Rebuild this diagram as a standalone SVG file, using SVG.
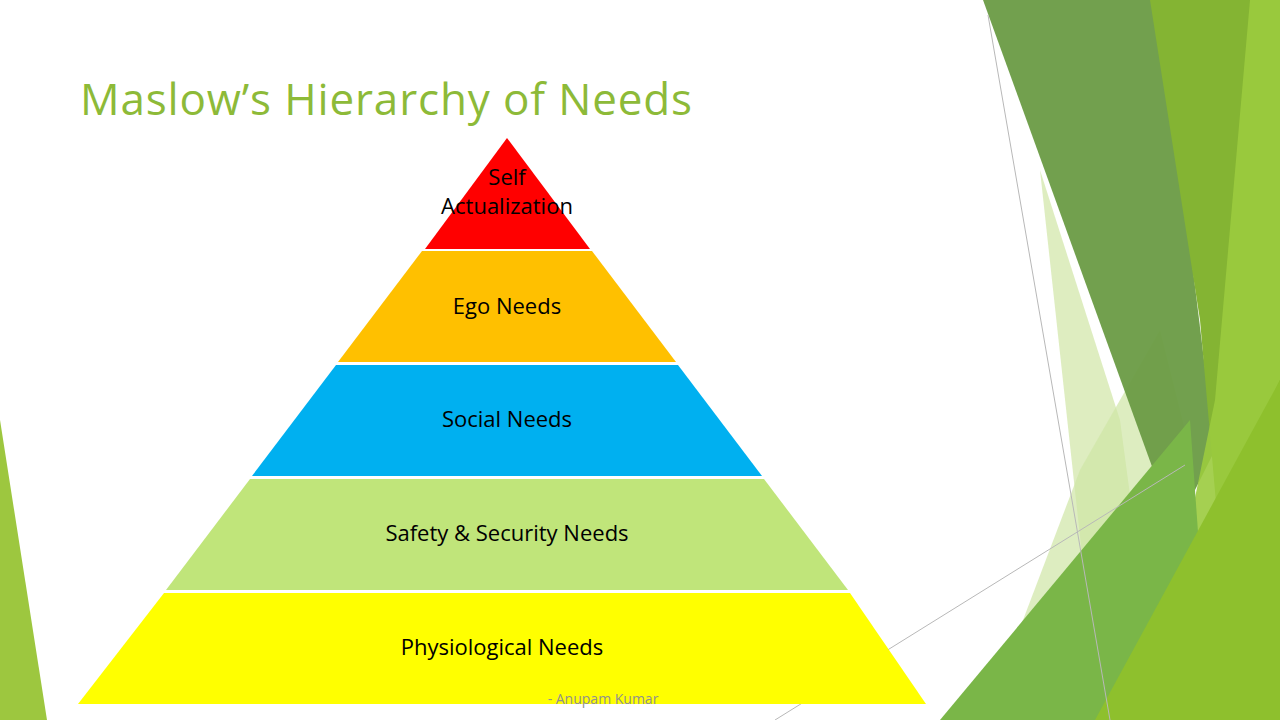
<svg xmlns="http://www.w3.org/2000/svg" width="1280" height="720" viewBox="0 0 1280 720">
<style>
.lbl{font-family:"Open Sans","Liberation Sans",sans-serif;font-size:22px;fill:#000;text-anchor:middle}
.ln{stroke:#b8b8b8;stroke-width:1;fill:none}
</style>
<rect width="1280" height="720" fill="#fff"/>
<g id="decor">
<polygon points="0,420 47,720 0,720" fill="#9DC73F"/>
<polygon points="1040,170 1100,720 1160,720 1120,420" fill="#D6E9B0" opacity="0.8"/>
<polygon points="985,720 1080,470 1160,330 1185,430" fill="#CFE6A5" opacity="0.7"/>
<polygon points="983,0 1160,0 1215,450 1175,530" fill="#6A9B45" opacity="0.95"/>
<polygon points="1150,0 1280,0 1280,720 1235,720 1200,320" fill="#84B433"/>
<polygon points="1250,0 1280,0 1280,380 1170,620 1215,400" fill="#9BCB3E" opacity="0.9"/>
<polygon points="940,720 1190,420 1200,560 1140,720" fill="#7AB648"/>
<polygon points="1095,720 1280,380 1280,720" fill="#8EC02D"/>
<line class="ln" x1="988" y1="15" x2="1110" y2="720"/>
<line class="ln" x1="775" y1="720" x2="1185" y2="465"/>
</g>
<text id="title" x="80" y="115" font-family="Open Sans,Liberation Sans,sans-serif" font-size="44" fill="#8DBA38" textLength="612">Maslow’s Hierarchy of Needs</text>
<g id="n1"><polygon points="507,138 590,249 425,249" fill="#FF0000"/><text class="lbl" x="507" y="185">Self</text><text class="lbl" x="507" y="214">Actualization</text></g>
<g id="n2"><polygon points="422,251 592,251 676,362 338,362" fill="#FFC000"/><text class="lbl" x="507" y="314">Ego Needs</text></g>
<g id="n3"><polygon points="336,365 678,365 762,476 252,476" fill="#00B0F0"/><text class="lbl" x="507" y="427">Social Needs</text></g>
<g id="n4"><polygon points="250,479 764,479 848,590 166,590" fill="#C0E57A"/><text class="lbl" x="507" y="541">Safety &amp; Security Needs</text></g>
<g id="n5"><polygon points="164,593 850,593 926,704 78,704" fill="#FFFF00"/><text class="lbl" x="502" y="655">Physiological Needs</text></g>
<g id="connectors"/>
<text x="603" y="704" font-family="Open Sans,Liberation Sans,sans-serif" font-size="14" fill="#909090" text-anchor="middle">- Anupam Kumar</text>
</svg>
